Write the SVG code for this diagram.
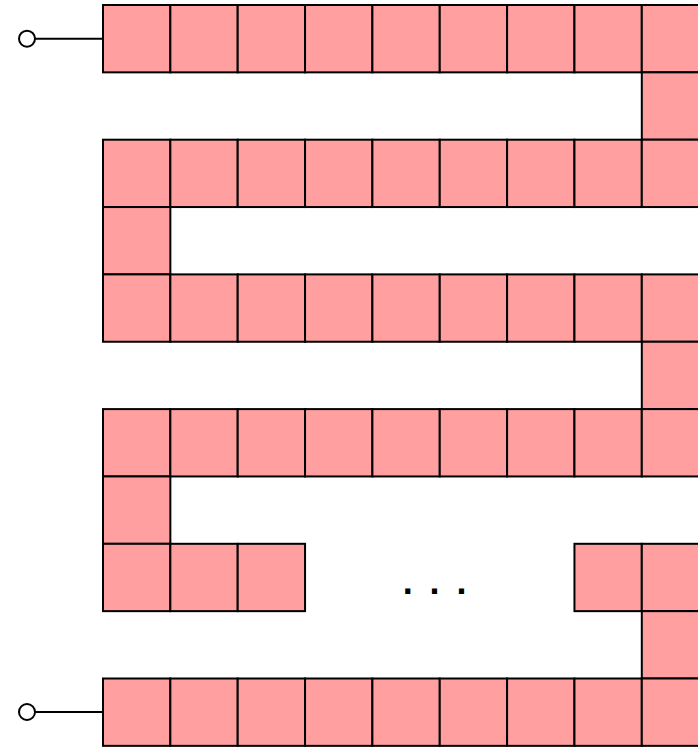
<svg xmlns="http://www.w3.org/2000/svg" width="698" height="747" viewBox="0 0 698 747">
<style>
.c{fill:#FF9F9F;stroke:#000;stroke-width:2}
.t{fill:none;stroke:#000;stroke-width:2}
.p{fill:#fff;stroke:#000;stroke-width:2}
.d{font-family:"Liberation Sans",Arial,sans-serif;font-size:36px;font-weight:bold;letter-spacing:16.9px;fill:#000}
</style>
<defs><rect id="sq" width="67.35" height="67.35"/></defs>
<g id="connectors">
<line class="t" x1="35" y1="38.7" x2="103" y2="38.7"/>
<line class="t" x1="35" y1="712" x2="103" y2="712"/>
</g>
<g id="terminal-top"><circle class="p" cx="27" cy="38.7" r="8"/></g>
<g id="terminal-bottom"><circle class="p" cx="27" cy="712" r="8"/></g>
<g id="row0"><use href="#sq" class="c" x="103" y="5"/><use href="#sq" class="c" x="170.35" y="5"/><use href="#sq" class="c" x="237.7" y="5"/><use href="#sq" class="c" x="305.05" y="5"/><use href="#sq" class="c" x="372.4" y="5"/><use href="#sq" class="c" x="439.75" y="5"/><use href="#sq" class="c" x="507.1" y="5"/><use href="#sq" class="c" x="574.45" y="5"/><use href="#sq" class="c" x="641.8" y="5"/></g>
<g id="row1"><use href="#sq" class="c" x="641.8" y="72.35"/></g>
<g id="row2"><use href="#sq" class="c" x="103" y="139.7"/><use href="#sq" class="c" x="170.35" y="139.7"/><use href="#sq" class="c" x="237.7" y="139.7"/><use href="#sq" class="c" x="305.05" y="139.7"/><use href="#sq" class="c" x="372.4" y="139.7"/><use href="#sq" class="c" x="439.75" y="139.7"/><use href="#sq" class="c" x="507.1" y="139.7"/><use href="#sq" class="c" x="574.45" y="139.7"/><use href="#sq" class="c" x="641.8" y="139.7"/></g>
<g id="row3"><use href="#sq" class="c" x="103" y="207.05"/></g>
<g id="row4"><use href="#sq" class="c" x="103" y="274.4"/><use href="#sq" class="c" x="170.35" y="274.4"/><use href="#sq" class="c" x="237.7" y="274.4"/><use href="#sq" class="c" x="305.05" y="274.4"/><use href="#sq" class="c" x="372.4" y="274.4"/><use href="#sq" class="c" x="439.75" y="274.4"/><use href="#sq" class="c" x="507.1" y="274.4"/><use href="#sq" class="c" x="574.45" y="274.4"/><use href="#sq" class="c" x="641.8" y="274.4"/></g>
<g id="row5"><use href="#sq" class="c" x="641.8" y="341.75"/></g>
<g id="row6"><use href="#sq" class="c" x="103" y="409.1"/><use href="#sq" class="c" x="170.35" y="409.1"/><use href="#sq" class="c" x="237.7" y="409.1"/><use href="#sq" class="c" x="305.05" y="409.1"/><use href="#sq" class="c" x="372.4" y="409.1"/><use href="#sq" class="c" x="439.75" y="409.1"/><use href="#sq" class="c" x="507.1" y="409.1"/><use href="#sq" class="c" x="574.45" y="409.1"/><use href="#sq" class="c" x="641.8" y="409.1"/></g>
<g id="row7"><use href="#sq" class="c" x="103" y="476.45"/></g>
<g id="row8"><use href="#sq" class="c" x="103" y="543.8"/><use href="#sq" class="c" x="170.35" y="543.8"/><use href="#sq" class="c" x="237.7" y="543.8"/><use href="#sq" class="c" x="574.45" y="543.8"/><use href="#sq" class="c" x="641.8" y="543.8"/></g>
<g id="ellipsis"><text class="d" x="402.7" y="593.5">...</text></g>
<g id="row9"><use href="#sq" class="c" x="641.8" y="611.15"/></g>
<g id="row10"><use href="#sq" class="c" x="103" y="678.5"/><use href="#sq" class="c" x="170.35" y="678.5"/><use href="#sq" class="c" x="237.7" y="678.5"/><use href="#sq" class="c" x="305.05" y="678.5"/><use href="#sq" class="c" x="372.4" y="678.5"/><use href="#sq" class="c" x="439.75" y="678.5"/><use href="#sq" class="c" x="507.1" y="678.5"/><use href="#sq" class="c" x="574.45" y="678.5"/><use href="#sq" class="c" x="641.8" y="678.5"/></g>
</svg>
